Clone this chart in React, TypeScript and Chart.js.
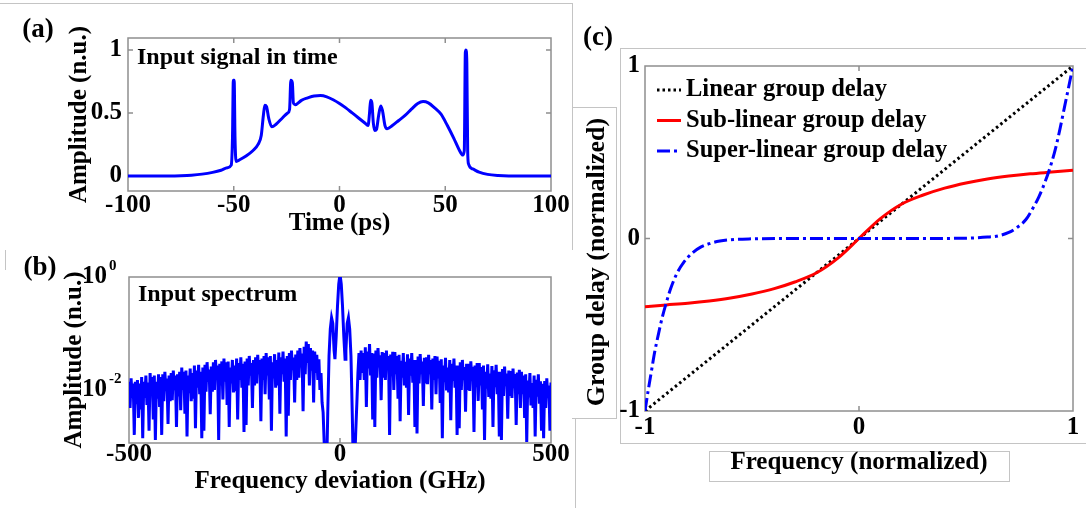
import React, { useEffect, useRef } from 'react';
import { Chart, registerables } from 'chart.js';

Chart.register(...registerables);

const FONT = "'Liberation Serif', 'Times New Roman', Times, serif";

// ---------- Panel (a): input signal in time ----------
const timePs = [-100, -80, -75, -70, -65, -60, -56, -53, -51.2, -50.6, -50.2, -49.8, -49.4, -48.9, -47, -44, -41, -38.5, -37, -36, -35.3, -34.5, -33.5, -32, -30, -27, -24.5, -23.6, -23, -22.3, -21.8, -21, -18, -15, -12, -9, -6, -3, 0, 3, 6, 9, 12, 13.5, 14.2, 14.7, 15.3, 16, 16.7, 17.5, 18.5, 19.5, 20.3, 21.5, 22.5, 25, 28, 31, 34, 37, 39.5, 42, 45, 48, 51, 54, 56.5, 58.3, 59, 59.5, 59.8, 60.2, 60.6, 61, 63, 66, 70, 75, 80, 100];
const timeAmp = [0, 0, 0.002, 0.006, 0.014, 0.028, 0.045, 0.065, 0.085, 0.3, 0.76, 0.76, 0.3, 0.115, 0.13, 0.16, 0.2, 0.25, 0.32, 0.48, 0.56, 0.55, 0.46, 0.39, 0.41, 0.46, 0.5, 0.53, 0.76, 0.74, 0.58, 0.565, 0.6, 0.62, 0.635, 0.638, 0.628, 0.605, 0.575, 0.54, 0.5, 0.46, 0.42, 0.4, 0.5, 0.6, 0.58, 0.42, 0.36, 0.37, 0.48, 0.555, 0.52, 0.4, 0.375, 0.4, 0.44, 0.48, 0.53, 0.575, 0.59, 0.58, 0.54, 0.49, 0.4, 0.3, 0.21, 0.165, 0.2, 0.98, 1.0, 0.9, 0.2, 0.095, 0.055, 0.03, 0.012, 0.003, 0, 0];
const aXTicks = [-100, -50, 0, 50, 100];
const aYTicks = [0, 0.5, 1];

// ---------- Panel (b): input spectrum (sampled every 2.5 GHz outside the centre) ----------
const specStep = 2.5;
const specLeftStart = -500;
const specLeft = [
  0.014, 0.0048, 0.016, 0.0072, 0.013, 0.0016, 0.014, 0.0056, 0.015, 0.0032,
  0.013, 0.0045, 0.017, 0.0014, 0.014, 0.0072, 0.018, 0.0054, 0.0135, 0.0019,
  0.02, 0.008, 0.017, 0.003, 0.018, 0.0013, 0.014, 0.007, 0.019, 0.005,
  0.017, 0.0016, 0.019, 0.0063, 0.021, 0.0095, 0.016, 0.0025, 0.018, 0.0063,
  0.02, 0.0066, 0.022, 0.0099, 0.018, 0.0022, 0.019, 0.0077, 0.021, 0.0044,
  0.025, 0.01, 0.021, 0.0038, 0.022, 0.0015, 0.018, 0.0088, 0.024, 0.0063,
  0.02, 0.007, 0.027, 0.0021, 0.022, 0.011, 0.028, 0.0084, 0.021, 0.0014,
  0.025, 0.0019, 0.028, 0.0093, 0.031, 0.014, 0.023, 0.0037, 0.026, 0.0093,
  0.031, 0.01, 0.034, 0.015, 0.027, 0.0013, 0.029, 0.012, 0.032, 0.0068,
  0.036, 0.014, 0.031, 0.0054, 0.032, 0.0022, 0.025, 0.013, 0.034, 0.009,
  0.027, 0.0095, 0.036, 0.003, 0.03, 0.015, 0.038, 0.011, 0.029, 0.0018,
  0.032, 0.0024, 0.036, 0.012, 0.04, 0.018, 0.03, 0.0048, 0.034, 0.012,
  0.038, 0.013, 0.042, 0.019, 0.034, 0.0028, 0.036, 0.015, 0.04, 0.0084,
  0.045, 0.018, 0.038, 0.0068, 0.04, 0.0019, 0.031, 0.016, 0.043, 0.011,
  0.034, 0.012, 0.046, 0.0038, 0.038, 0.019, 0.048, 0.014, 0.036, 0.0015,
  0.04, 0.0035, 0.045, 0.015, 0.05, 0.0225, 0.0375, 0.006, 0.0425, 0.015,
  0.05, 0.0165, 0.055, 0.025, 0.044, 0.0042, 0.058, 0.019, 0.072, 0.03,
  0.065, 0.012, 0.055, 0.022, 0.05, 0.006, 0.048, 0.02, 0.042, 0.015,
];
const specCenterX = [-50, -47.5, -45, -42.5, -40, -37.5, -35, -32, -29, -26, -23, -20, -17, -14, -12, -9, -6, -3, -1, 0, 1, 3, 6, 9, 12, 14, 17, 20, 23, 26, 29, 32, 35, 37.5, 40, 42.5, 45, 47.5, 50, 52.5];
const specCenterY = [0.035, 0.01, 0.02, 0.006, 0.004, 0.0012, 0.0005, 0.0003, 0.004, 0.04, 0.12, 0.19, 0.15, 0.05, 0.035, 0.09, 0.3, 0.75, 0.98, 1, 0.98, 0.75, 0.3, 0.09, 0.035, 0.05, 0.15, 0.19, 0.12, 0.04, 0.004, 0.0003, 0.0006, 0.002, 0.006, 0.02, 0.045, 0.015, 0.05, 0.02];
const specRightStart = 55;
const specRight = [
  0.045, 0.015, 0.057, 0.005, 0.048, 0.024, 0.065, 0.018, 0.045, 0.003,
  0.044, 0.0022, 0.05, 0.0165, 0.055, 0.025, 0.041, 0.0066, 0.047, 0.0165,
  0.045, 0.015, 0.05, 0.0225, 0.04, 0.0016, 0.0425, 0.0175, 0.0475, 0.01,
  0.047, 0.019, 0.04, 0.007, 0.042, 0.0028, 0.033, 0.0165, 0.045, 0.012,
  0.0315, 0.011, 0.043, 0.0036, 0.036, 0.018, 0.045, 0.0135, 0.034, 0.0022,
  0.034, 0.0017, 0.039, 0.013, 0.043, 0.019, 0.032, 0.0052, 0.037, 0.013,
  0.038, 0.0126, 0.042, 0.019, 0.034, 0.0045, 0.036, 0.015, 0.04, 0.0084,
  0.039, 0.016, 0.033, 0.0059, 0.035, 0.0014, 0.027, 0.0137, 0.037, 0.0098,
  0.025, 0.009, 0.034, 0.0029, 0.029, 0.0144, 0.036, 0.011, 0.027, 0.0016,
  0.027, 0.0021, 0.031, 0.01, 0.034, 0.015, 0.0255, 0.0041, 0.029, 0.01,
  0.029, 0.0096, 0.032, 0.0144, 0.0256, 0.0018, 0.027, 0.0112, 0.03, 0.0064,
  0.03, 0.012, 0.0255, 0.0045, 0.027, 0.0013, 0.021, 0.0105, 0.0285, 0.0075,
  0.0196, 0.007, 0.0266, 0.0022, 0.0224, 0.0112, 0.028, 0.0084, 0.021, 0.0015,
  0.021, 0.0013, 0.0234, 0.0078, 0.026, 0.0117, 0.0195, 0.0031, 0.022, 0.0078,
  0.0216, 0.0072, 0.024, 0.0108, 0.0192, 0.0024, 0.0204, 0.0084, 0.0228, 0.0048,
  0.021, 0.0084, 0.018, 0.0032, 0.019, 0.0012, 0.0147, 0.0074, 0.02, 0.0053,
  0.0133, 0.0048, 0.018, 0.0015, 0.0152, 0.0076, 0.019, 0.0057, 0.0143, 0.0019,
  0.0128, 0.0014, 0.0144, 0.0048, 0.016, 0.0072, 0.012, 0.0019, 0.0136, 0.011,
];
const bXTicks = [-500, 0, 500];
const bYTicks = [1, 0.01];
const bYExps = ['0', '-2'];

// ---------- Panel (c): group delay ----------
const linX = [-1, 1];
const linY = [-1, 1];
const subX = [-1, -0.9, -0.8, -0.7, -0.6, -0.5, -0.4, -0.3, -0.2, -0.1, 0, 0.1, 0.2, 0.3, 0.4, 0.5, 0.6, 0.7, 0.8, 0.9, 1];
const subY = [-0.395, -0.385, -0.375, -0.362, -0.345, -0.322, -0.292, -0.252, -0.2, -0.115, 0, 0.115, 0.2, 0.252, 0.292, 0.322, 0.345, 0.362, 0.375, 0.385, 0.395];
const supX = [-1, -0.985, -0.97, -0.955, -0.94, -0.92, -0.9, -0.88, -0.85, -0.82, -0.78, -0.74, -0.7, -0.65, -0.6, -0.5, -0.3, 0, 0.3, 0.5, 0.6, 0.65, 0.7, 0.74, 0.78, 0.81, 0.84, 0.87, 0.9, 0.92, 0.94, 0.96, 0.98, 1];
const supY = [-1, -0.88, -0.77, -0.66, -0.57, -0.46, -0.37, -0.29, -0.2, -0.14, -0.085, -0.05, -0.03, -0.015, -0.007, -0.002, 0, 0, 0, 0.002, 0.008, 0.015, 0.035, 0.065, 0.11, 0.17, 0.24, 0.33, 0.44, 0.53, 0.64, 0.76, 0.88, 1];
const cTicks = [-1, 0, 1];
const cLabels = ['Linear group delay', 'Sub-linear group delay', 'Super-linear group delay'];

const pts = (xs: number[], ys: number[]) => xs.map((x, i) => ({ x, y: ys[i] }));
const gridPts = (start: number, step: number, ys: number[]) => ys.map((y, i) => ({ x: start + i * step, y }));

const tickFont = { family: FONT, size: 25, weight: 'bold' as const };
const titleFont = { family: FONT, size: 25, weight: 'bold' as const };

const framePlugin = {
  id: 'frame',
  beforeDatasetsDraw(chart: any, _a: any, opts: any) {
    const { ctx, chartArea: a } = chart;
    const xs = chart.scales.x;
    const ys = chart.scales.y;
    ctx.save();
    ctx.strokeStyle = opts.color || '#8f8f8f';
    ctx.lineWidth = opts.width || 1.5;
    ctx.strokeRect(a.left, a.top, a.right - a.left, a.bottom - a.top);
    const L = opts.tickLen || 5;
    ctx.beginPath();
    xs.ticks.forEach((t: any) => {
      const p = xs.getPixelForValue(t.value);
      if (p < a.left + 2 || p > a.right - 2) return;
      ctx.moveTo(p, a.bottom); ctx.lineTo(p, a.bottom - L);
      ctx.moveTo(p, a.top); ctx.lineTo(p, a.top + L);
    });
    ys.ticks.forEach((t: any) => {
      const p = ys.getPixelForValue(t.value);
      if (p < a.top + 2 || p > a.bottom - 2) return;
      ctx.moveTo(a.left, p); ctx.lineTo(a.left + L, p);
      ctx.moveTo(a.right, p); ctx.lineTo(a.right - L, p);
    });
    ctx.stroke();
    ctx.restore();
  },
};

const textPlugin = {
  id: 'texts',
  afterDraw(chart: any, _a: any, opts: any) {
    const ctx = chart.ctx;
    const items = opts.items || [];
    for (let i = 0; i < items.length; i++) {
      const it = items[i];
      ctx.save();
      ctx.font = `bold ${it.size}px ${FONT}`;
      ctx.fillStyle = '#000';
      ctx.textAlign = it.align || 'left';
      ctx.textBaseline = 'middle';
      ctx.translate(it.x, it.y);
      if (it.rot) ctx.rotate(it.rot);
      ctx.fillText(it.text, 0, 0);
      ctx.restore();
    }
  },
};

const powLabelPlugin = {
  id: 'powLabels',
  afterDraw(chart: any, _a: any, opts: any) {
    const ctx = chart.ctx;
    const ys = chart.scales.y;
    bYTicks.forEach((v, i) => {
      const p = ys.getPixelForValue(v);
      ctx.save();
      ctx.fillStyle = '#000';
      ctx.textBaseline = 'middle';
      ctx.font = `bold 25px ${FONT}`;
      ctx.textAlign = 'right';
      ctx.fillText('10', opts.right, p);
      ctx.font = `bold 15px ${FONT}`;
      ctx.textAlign = 'left';
      ctx.fillText(bYExps[i], opts.right + 2, p - 11);
      ctx.restore();
    });
  },
};

const lineLegendPlugin = {
  id: 'lineLegend',
  afterDraw(chart: any, _a: any, opts: any) {
    const ctx = chart.ctx;
    chart.data.datasets.forEach((ds: any, i: number) => {
      const y = opts.y0 + i * opts.dy;
      ctx.save();
      ctx.strokeStyle = ds.borderColor;
      ctx.lineWidth = ds.borderWidth;
      ctx.setLineDash(ds.borderDash || []);
      ctx.beginPath();
      ctx.moveTo(opts.x0, y);
      ctx.lineTo(opts.x1, y);
      ctx.stroke();
      ctx.setLineDash([]);
      ctx.font = `bold ${opts.size}px ${FONT}`;
      ctx.fillStyle = '#000';
      ctx.textAlign = 'left';
      ctx.textBaseline = 'middle';
      ctx.fillText(ds.label, opts.tx, y);
      ctx.restore();
    });
  },
};

const setTicks = (vals: number[]) => (s: any) => {
  s.ticks = vals.map((v) => ({ value: v }));
};
const plainLabel = (v: any) => String(v);

const baseOpts = {
  responsive: false,
  maintainAspectRatio: false,
  animation: false as const,
  devicePixelRatio: 1,
  events: [] as any[],
};

export default function App() {
  const refA = useRef<HTMLCanvasElement>(null);
  const refB = useRef<HTMLCanvasElement>(null);
  const refC = useRef<HTMLCanvasElement>(null);

  useEffect(() => {
    Chart.defaults.color = '#000';
    const charts: Chart[] = [];

    charts.push(
      new Chart(refA.current as HTMLCanvasElement, {
        type: 'line',
        data: {
          datasets: [
            {
              data: pts(timePs, timeAmp),
              borderColor: '#0000ff',
              borderWidth: 3,
              pointRadius: 0,
              cubicInterpolationMode: 'monotone',
              fill: false,
            },
          ],
        },
        options: {
          ...baseOpts,
          layout: { padding: { left: 0, top: 38, right: 21, bottom: 0 }, autoPadding: false },
          plugins: {
            legend: { display: false },
            tooltip: { enabled: false },
            frame: {},
            texts: {
              items: [
                { text: '(a)', x: 38, y: 30, size: 27, align: 'center' },
                { text: 'Input signal in time', x: 137, y: 58, size: 24 },
              ],
            },
          } as any,
          scales: {
            x: {
              type: 'linear', min: -100, max: 100,
              afterBuildTicks: setTicks(aXTicks),
              afterFit: (s: any) => { s.height = 59; },
              grid: { display: false, drawTicks: false },
              border: { display: false },
              ticks: { font: tickFont, color: '#000', padding: 0, maxRotation: 0, autoSkip: false, callback: plainLabel },
              title: { display: true, text: 'Time (ps)', font: titleFont, color: '#000', padding: { top: 0, bottom: 11 } },
            },
            y: {
              type: 'linear', min: -0.12, max: 1.095,
              afterBuildTicks: setTicks(aYTicks),
              afterFit: (s: any) => { s.width = 128; },
              grid: { display: false, drawTicks: false },
              border: { display: false },
              ticks: { font: tickFont, color: '#000', padding: 6, autoSkip: false, callback: plainLabel },
              title: { display: true, text: 'Amplitude (n.u.)', font: titleFont, color: '#000', padding: { top: 65, bottom: 0 } },
            },
          },
        } as any,
        plugins: [framePlugin, textPlugin],
      })
    );

    const specData = [
      ...gridPts(specLeftStart, specStep, specLeft),
      ...pts(specCenterX, specCenterY),
      ...gridPts(specRightStart, specStep, specRight),
    ];

    charts.push(
      new Chart(refB.current as HTMLCanvasElement, {
        type: 'line',
        data: {
          datasets: [
            {
              data: specData,
              borderColor: '#0000ff',
              borderWidth: 3,
              pointRadius: 0,
              tension: 0,
              fill: false,
            },
          ],
        },
        options: {
          ...baseOpts,
          layout: { padding: { left: 0, top: 27, right: 21, bottom: 0 }, autoPadding: false },
          plugins: {
            legend: { display: false },
            tooltip: { enabled: false },
            frame: {},
            powLabels: { right: 107 },
            texts: {
              items: [
                { text: '(b)', x: 40, y: 18, size: 27, align: 'center' },
                { text: 'Input spectrum', x: 138, y: 45, size: 24 },
              ],
            },
          } as any,
          scales: {
            x: {
              type: 'linear', min: -500, max: 500,
              afterBuildTicks: setTicks(bXTicks),
              afterFit: (s: any) => { s.height = 65; },
              grid: { display: false, drawTicks: false },
              border: { display: false },
              ticks: { font: tickFont, color: '#000', padding: -3, maxRotation: 0, autoSkip: false, callback: plainLabel },
              title: { display: true, text: 'Frequency deviation (GHz)', font: titleFont, color: '#000', padding: { top: 0, bottom: 11 } },
            },
            y: {
              type: 'logarithmic', min: 0.00115, max: 1,
              afterBuildTicks: setTicks(bYTicks),
              afterFit: (s: any) => { s.width = 129; },
              grid: { display: false, drawTicks: false },
              border: { display: false },
              ticks: { display: false },
              title: { display: true, text: 'Amplitude (n.u.)', font: titleFont, color: '#000', padding: { top: 60, bottom: 0 } },
            },
          },
        } as any,
        plugins: [framePlugin, textPlugin, powLabelPlugin],
      })
    );

    charts.push(
      new Chart(refC.current as HTMLCanvasElement, {
        type: 'line',
        data: {
          datasets: [
            {
              label: cLabels[0],
              data: pts(linX, linY),
              borderColor: '#000000',
              borderWidth: 3,
              borderDash: [2.5, 3],
              pointRadius: 0,
              fill: false,
              order: 3,
            },
            {
              label: cLabels[1],
              data: pts(subX, subY),
              borderColor: '#ff0000',
              borderWidth: 3,
              pointRadius: 0,
              cubicInterpolationMode: 'monotone',
              fill: false,
              order: 2,
            },
            {
              label: cLabels[2],
              data: pts(supX, supY),
              borderColor: '#0000ff',
              borderWidth: 3,
              borderDash: [13, 4, 3, 4],
              pointRadius: 0,
              cubicInterpolationMode: 'monotone',
              fill: false,
              order: 1,
            },
          ],
        },
        options: {
          ...baseOpts,
          layout: { padding: { left: 0, top: 66, right: 13, bottom: 0 }, autoPadding: false },
          plugins: {
            legend: { display: false },
            tooltip: { enabled: false },
            frame: {},
            lineLegend: { x0: 85, x1: 109, tx: 114, y0: 90, dy: 30.5, size: 24.5 },
            texts: {
              items: [
                { text: '(c)', x: 26, y: 38, size: 27, align: 'center' },
                { text: 'Group delay (normalized)', x: 25, y: 262, size: 26, align: 'center', rot: -Math.PI / 2 },
              ],
            },
          } as any,
          scales: {
            x: {
              type: 'linear', min: -1, max: 1,
              afterBuildTicks: setTicks(cTicks),
              afterFit: (s: any) => { s.height = 97; },
              grid: { display: false, drawTicks: false },
              border: { display: false },
              ticks: { font: tickFont, color: '#000', padding: 2, maxRotation: 0, autoSkip: false, callback: plainLabel },
              title: { display: true, text: 'Frequency (normalized)', font: titleFont, color: '#000', padding: { top: 0, bottom: 30 } },
            },
            y: {
              type: 'linear', min: -1, max: 1,
              afterBuildTicks: setTicks(cTicks),
              afterFit: (s: any) => { s.width = 73; },
              grid: { display: false, drawTicks: false },
              border: { display: false },
              ticks: { font: tickFont, color: '#000', padding: 5, autoSkip: false, callback: plainLabel },
            },
          },
        } as any,
        plugins: [framePlugin, textPlugin, lineLegendPlugin],
      })
    );

    return () => charts.forEach((c) => c.destroy());
  }, []);

  const gray = '1px solid #c4c4c4';
  const abs = (s: React.CSSProperties): React.CSSProperties => ({ position: 'absolute', boxSizing: 'border-box', ...s });

  return (
    <div style={{ position: 'fixed', left: 0, top: 0, width: 1086, height: 508, background: '#fff', overflow: 'hidden' }}>
      <div style={abs({ left: 0, top: 3, width: 573, height: 1, borderTop: gray })} />
      <div style={abs({ left: 572, top: 3, width: 1, height: 247, borderLeft: gray })} />
      <div style={abs({ left: 5, top: 250, width: 1, height: 20, borderLeft: gray })} />
      <div style={abs({ left: 572, top: 107, width: 45, height: 312, borderTop: gray, borderRight: gray, borderBottom: gray })} />
      <div style={abs({ left: 575, top: 418, width: 1, height: 90, borderLeft: gray })} />
      <div style={abs({ left: 620, top: 48, width: 480, height: 396, border: gray })} />
      <div style={abs({ left: 709, top: 451, width: 301, height: 31, border: gray })} />
      <canvas ref={refA} width={572} height={250} style={{ position: 'absolute', left: 0, top: 0, width: 572, height: 250 }} />
      <canvas ref={refB} width={572} height={258} style={{ position: 'absolute', left: 0, top: 250, width: 572, height: 258 }} />
      <canvas ref={refC} width={514} height={508} style={{ position: 'absolute', left: 572, top: 0, width: 514, height: 508 }} />
    </div>
  );
}
